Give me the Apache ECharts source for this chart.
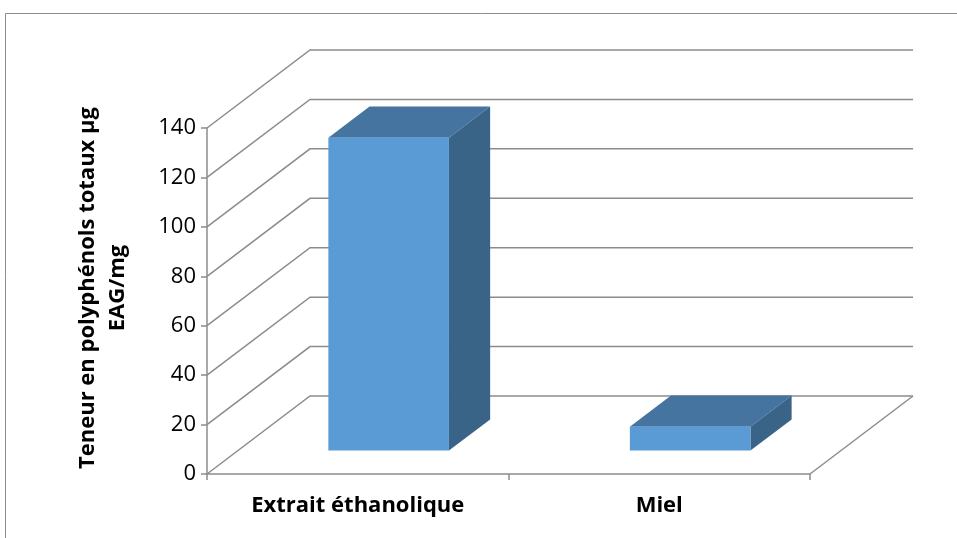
<!DOCTYPE html>
<html>
<head>
<meta charset="utf-8">
<script src="https://cdn.jsdelivr.net/npm/echarts@6/dist/echarts.min.js"></script>
<style>
  html, body { margin: 0; padding: 0; background: #ffffff; }
  #chart { width: 957px; height: 538px; }
</style>
</head>
<body>
<div id="chart"></div>
<script>
// Categories and values (µg EAG/mg)
var categories = ['Extrait éthanolique', 'Miel'];
var values = [126.6, 9.7];
// Value-axis ticks
var yTicks = [0, 20, 40, 60, 80, 100, 120, 140];
var yTitleLines = ['Teneur en polyphénols totaux µg', 'EAG/mg'];

// Pseudo-3D projection of the plot box (pixel offset of the back plane)
var DEPTH_X = 103;
var DEPTH_Y = -78;
// Bars occupy the middle of the depth range, 40% of the category band
var BAR_DEPTH_FRONT = 0.3;
var BAR_DEPTH_BACK = 0.7;
var BAR_WIDTH_RATIO = 0.4;

var GRID_COLOR = '#8c8c8c';
var FONT = '"Open Sans", "Liberation Sans", sans-serif';

var chart = echarts.init(document.getElementById('chart'), null, { renderer: 'canvas' });

function renderGridLine(params, api) {
  var cs = params.coordSys;
  var v = api.value(0);
  var y = api.coord([0, v])[1];
  var x0 = cs.x;
  var x1 = cs.x + cs.width;
  var children = [{
    type: 'polyline',
    shape: { points: [[x0, y], [x0 + DEPTH_X, y + DEPTH_Y], [x1 + DEPTH_X, y + DEPTH_Y]] },
    style: { stroke: GRID_COLOR, lineWidth: 1.5, fill: null }
  }];
  if (v === yTicks[0]) {
    // right edge of the floor
    children.push({
      type: 'line',
      shape: { x1: x1, y1: y, x2: x1 + DEPTH_X, y2: y + DEPTH_Y },
      style: { stroke: GRID_COLOR, lineWidth: 1.5 }
    });
  }
  return { type: 'group', children: children };
}

function renderBar(params, api) {
  var idx = api.value(0);
  var val = api.value(1);
  var base = api.coord([idx, 0]);
  var top = api.coord([idx, val]);
  var band = api.size([1, 0])[0];
  var w = band * BAR_WIDTH_RATIO;
  var fx = base[0] - w / 2 + DEPTH_X * BAR_DEPTH_FRONT;
  var fyB = base[1] + DEPTH_Y * BAR_DEPTH_FRONT;
  var fyT = top[1] + DEPTH_Y * BAR_DEPTH_FRONT;
  var ddx = DEPTH_X * (BAR_DEPTH_BACK - BAR_DEPTH_FRONT);
  var ddy = DEPTH_Y * (BAR_DEPTH_BACK - BAR_DEPTH_FRONT);
  return {
    type: 'group',
    children: [
      {
        type: 'polygon',
        shape: { points: [[fx, fyT], [fx + w, fyT], [fx + w + ddx, fyT + ddy], [fx + ddx, fyT + ddy]] },
        style: { fill: '#44749f' }
      },
      {
        type: 'polygon',
        shape: { points: [[fx + w, fyT], [fx + w + ddx, fyT + ddy], [fx + w + ddx, fyB + ddy], [fx + w, fyB]] },
        style: { fill: '#3a6487' }
      },
      {
        type: 'rect',
        shape: { x: fx, y: fyT, width: w, height: fyB - fyT },
        style: { fill: '#5b9bd5' }
      }
    ]
  };
}

var option = {
  backgroundColor: '#ffffff',
  animation: false,
  grid: { left: 207, right: 147, top: 128, bottom: 64 },
  xAxis: {
    type: 'category',
    data: categories,
    axisLine: { show: true, lineStyle: { color: GRID_COLOR, width: 1.5 } },
    axisTick: { show: true, length: 6, lineStyle: { color: GRID_COLOR, width: 1.5 } },
    axisLabel: { color: '#000', fontFamily: FONT, fontWeight: 'bold', fontSize: 22, margin: 21 },
    splitLine: { show: false }
  },
  yAxis: {
    type: 'value',
    min: 0,
    max: yTicks[yTicks.length - 1],
    interval: yTicks[1] - yTicks[0],
    axisLine: { show: true, lineStyle: { color: GRID_COLOR, width: 1.5 } },
    axisTick: { show: true, inside: false, length: 6, lineStyle: { color: GRID_COLOR, width: 1.5 } },
    axisLabel: { color: '#000', fontFamily: FONT, fontSize: 22, margin: 11 },
    splitLine: { show: false }
  },
  graphic: [
    {
      type: 'rect',
      shape: { x: 5.5, y: 13.5, width: 1000, height: 600 },
      style: { fill: null, stroke: '#8c8c8c', lineWidth: 1 },
      silent: true,
      z: -10
    },
    {
      type: 'text',
      x: 103,
      y: 288,
      rotation: Math.PI / 2,
      style: {
        text: yTitleLines.join('\n'),
        fill: '#000',
        font: 'bold 22px ' + FONT,
        align: 'center',
        verticalAlign: 'middle',
        lineHeight: 30
      }
    }
  ],
  series: [
    {
      type: 'custom',
      name: 'grid',
      z: 1,
      silent: true,
      data: yTicks.map(function (t) { return [t]; }),
      encode: { y: 0 },
      renderItem: renderGridLine
    },
    {
      type: 'custom',
      name: 'Teneur',
      z: 2,
      data: values.map(function (v, i) { return [i, v]; }),
      encode: { x: 0, y: 1 },
      renderItem: renderBar
    }
  ]
};

chart.setOption(option);
</script>
</body>
</html>
